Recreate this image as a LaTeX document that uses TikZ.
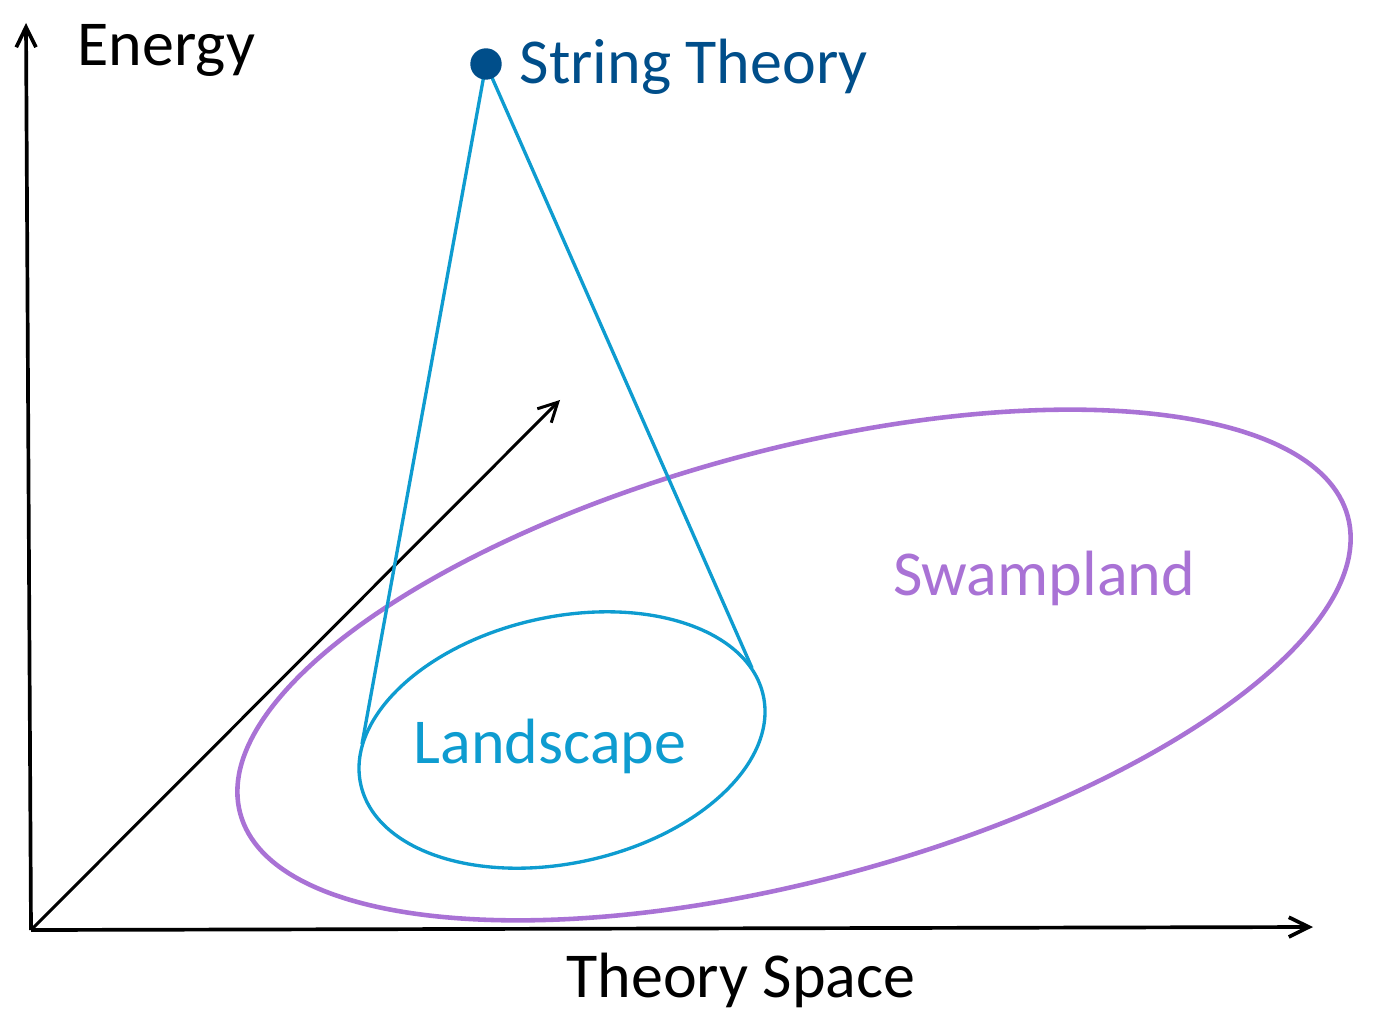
\documentclass[tikz,border=0pt]{standalone}
\usepackage{fontspec}
\setmainfont{Carlito}
\usetikzlibrary{arrows.meta,shapes.geometric}
\definecolor{stdark}{RGB}{0,78,138}
\definecolor{landc}{RGB}{14,156,208}
\definecolor{swampc}{RGB}{169,114,213}
\tikzset{
  axisline/.style={line width=1.05pt,black,-{Straight Barb[length=5.7pt,width=5.6pt]}},
  diagline/.style={line width=0.85pt,black,-{Straight Barb[length=5.4pt,width=5.6pt]}},
  conel/.style={line width=0.95pt,landc},
  lbl/.style={inner sep=0pt,font=\fontsize{18.2}{21.8}\selectfont},
}
\begin{document}
\begin{tikzpicture}[x=0.01cm,y=-0.01cm]
\useasboundingbox (0,0) rectangle (1374,1028);
% axes
\coordinate (O) at (31,930);
\coordinate (ytop) at (26,23);
\coordinate (xend) at (1313,927);
\coordinate (dend) at (560,400);
\draw[axisline] (O) -- (ytop);
\draw[axisline] (O) -- (xend);
\draw[diagline] (O) -- (dend);
% ellipses
\node[draw=swampc,line width=1.3pt,ellipse,inner sep=0pt,minimum width=11.46cm,minimum height=4.30cm,rotate=15] (swamp) at (794,665) {};
\node[draw=landc,line width=0.95pt,ellipse,inner sep=0pt,minimum width=4.12cm,minimum height=2.46cm,rotate=12.5] (land) at (562,740) {};
% string theory dot and cone
\coordinate (cl) at (362,744);
\coordinate (cr) at (752,668);
\coordinate (apex) at (486,64);
\draw[conel] (apex) -- (cl);
\draw[conel] (apex) -- (cr);
\node[circle,fill=stdark,inner sep=0pt,minimum size=0.314cm] (dot) at (apex) {};
% labels
\node[lbl,anchor=base west] (energy) at (77,66) {Energy};
\node[lbl,anchor=base west,text=stdark] (st) at (519,84) {String Theory};
\node[lbl,anchor=base] (ts) at (741,997) {Theory Space};
\node[lbl,anchor=base,text=swampc] (sw) at (1044,595) {Swampland};
\node[lbl,anchor=base,text=landc] (ls) at (550,763) {Landscape};
\end{tikzpicture}
\end{document}
